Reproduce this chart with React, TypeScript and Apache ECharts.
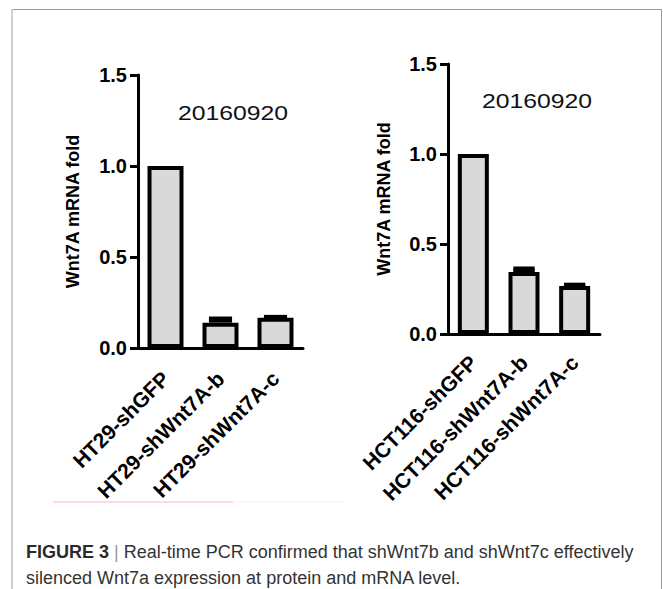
import React, { useEffect, useRef } from "react";
import * as echarts from "echarts";

const leftCategories = ["HT29-shGFP", "HT29-shWnt7A-b", "HT29-shWnt7A-c"];
const leftValues = [1.0, 0.139, 0.166];
const leftErrors = [0, 0.023, 0.005];

const rightCategories = ["HCT116-shGFP", "HCT116-shWnt7A-b", "HCT116-shWnt7A-c"];
const rightValues = [1.0, 0.344, 0.266];
const rightErrors = [0, 0.02, 0.008];

const yMin = 0;
const yMax = 1.5;
const yInterval = 0.5;

const chartTitle = "20160920";
const yAxisName = "Wnt7A mRNA fold";
const captionLine1Bold = "FIGURE 3";
const captionLine1Rest = "Real-time PCR confirmed that shWnt7b and shWnt7c effectively";
const captionLine2 = "silenced Wnt7a expression at protein and mRNA level.";

const FONT = "'Liberation Sans', Arial, sans-serif";

function errorRender(params: any, api: any) {
  const idx = api.value(0);
  const v = api.value(1);
  const e = api.value(2);
  if (!e) return { type: "group", children: [] };
  const base = api.coord([idx, v]);
  const top = api.coord([idx, v + e]);
  const hw = api.size([1, 0])[0] * 0.21;
  return {
    type: "group",
    children: [
      {
        type: "rect",
        shape: { x: top[0] - hw, y: top[1], width: hw * 2, height: Math.max(base[1] - top[1], 0) },
        style: { fill: "#000" },
      },
      {
        type: "line",
        shape: { x1: top[0] - hw, y1: top[1], x2: top[0] + hw, y2: top[1] },
        style: { stroke: "#000", lineWidth: 4 },
      },
    ],
  };
}

function makeXAxis(cats: string[], gridIndex: number, margin: number) {
  return {
    type: "category",
    gridIndex,
    data: cats,
    boundaryGap: true,
    axisLine: { lineStyle: { color: "#000", width: 3 } },
    axisTick: { alignWithLabel: true, length: 9, lineStyle: { color: "#000", width: 3 } },
    axisLabel: {
      rotate: 45,
      interval: 0,
      margin,
      color: "#000",
      fontWeight: "bold",
      fontSize: 21,
      fontFamily: FONT,
    },
    splitLine: { show: false },
  };
}

function makeYAxis(gridIndex: number, nameGap: number) {
  return {
    type: "value",
    gridIndex,
    min: yMin,
    max: yMax,
    interval: yInterval,
    name: yAxisName,
    nameLocation: "middle",
    nameGap,
    nameRotate: 90,
    nameTextStyle: { color: "#000", fontWeight: "bold", fontSize: 18, fontFamily: FONT },
    axisLine: { show: true, lineStyle: { color: "#000", width: 3 } },
    axisTick: { show: true, length: 8, lineStyle: { color: "#000", width: 3 } },
    axisLabel: {
      margin: 11,
      color: "#000",
      fontWeight: "bold",
      fontSize: 20,
      fontFamily: FONT,
      formatter: (v: number) => v.toFixed(1),
    },
    splitLine: { show: false },
  };
}

export default function App() {
  const ref = useRef<HTMLDivElement>(null);
  useEffect(() => {
    if (!ref.current) return;
    const chart = echarts.init(ref.current, undefined, { renderer: "svg" });
    const option: any = {
      animation: false,
      backgroundColor: "#fff",
      grid: [
        { left: 138, top: 75, width: 165, height: 273 },
        { left: 448, top: 64, width: 152, height: 270 },
      ],
      xAxis: [makeXAxis(leftCategories, 0, 27), makeXAxis(rightCategories, 1, 25)],
      yAxis: [makeYAxis(0, 56), makeYAxis(1, 55)],
      series: [
        {
          type: "bar",
          xAxisIndex: 0,
          yAxisIndex: 0,
          data: leftValues,
          barWidth: 36,
          itemStyle: { color: "#d9d9d9", borderColor: "#000", borderWidth: 4 },
          z: 2,
        },
        {
          type: "custom",
          xAxisIndex: 0,
          yAxisIndex: 0,
          data: leftValues.map((v, i) => [i, v, leftErrors[i]]),
          renderItem: errorRender,
          z: 3,
        },
        {
          type: "bar",
          xAxisIndex: 1,
          yAxisIndex: 1,
          data: rightValues,
          barWidth: 31,
          itemStyle: { color: "#d9d9d9", borderColor: "#000", borderWidth: 4 },
          z: 2,
        },
        {
          type: "custom",
          xAxisIndex: 1,
          yAxisIndex: 1,
          data: rightValues.map((v, i) => [i, v, rightErrors[i]]),
          renderItem: errorRender,
          z: 3,
        },
      ],
      graphic: [
        { type: "line", shape: { x1: 12, y1: 9.5, x2: 661, y2: 9.5 }, style: { stroke: "#9a9a9a", lineWidth: 1 } },
        { type: "line", shape: { x1: 12, y1: 9, x2: 12, y2: 589 }, style: { stroke: "#cfcfcf", lineWidth: 2 } },
        { type: "line", shape: { x1: 661.5, y1: 9, x2: 661.5, y2: 589 }, style: { stroke: "#9a9a9a", lineWidth: 1 } },
        { type: "line", shape: { x1: 53, y1: 502, x2: 233, y2: 502 }, style: { stroke: "#ffcfd6", lineWidth: 1.5 } },
        { type: "line", shape: { x1: 233, y1: 502, x2: 345, y2: 502 }, style: { stroke: "#f6f6f6", lineWidth: 1 } },
        {
          type: "text",
          x: 233,
          y: 113,
          scaleX: 1.18,
          style: { text: chartTitle, fill: "#111", fontSize: 21, fontFamily: FONT, align: "center", verticalAlign: "middle" },
        },
        {
          type: "text",
          x: 537,
          y: 101,
          scaleX: 1.18,
          style: { text: chartTitle, fill: "#111", fontSize: 21, fontFamily: FONT, align: "center", verticalAlign: "middle" },
        },
        {
          type: "text",
          x: 26,
          y: 552,
          style: {
            text: "{b|" + captionLine1Bold + "} {s||} " + captionLine1Rest,
            fill: "#333",
            fontSize: 18,
            fontFamily: FONT,
            verticalAlign: "middle",
            rich: {
              b: { fontWeight: "bold", fill: "#2b2b2b", fontSize: 18, fontFamily: FONT },
              s: { fill: "#999", fontSize: 18, fontFamily: FONT },
            },
          },
        },
        {
          type: "text",
          x: 26,
          y: 578,
          style: { text: captionLine2, fill: "#333", fontSize: 18, fontFamily: FONT, verticalAlign: "middle" },
        },
      ],
    };
    chart.setOption(option);
    return () => chart.dispose();
  }, []);
  return (
    <div
      ref={ref}
      style={{ position: "absolute", left: 0, top: 0, width: 663, height: 589 }}
    />
  );
}
